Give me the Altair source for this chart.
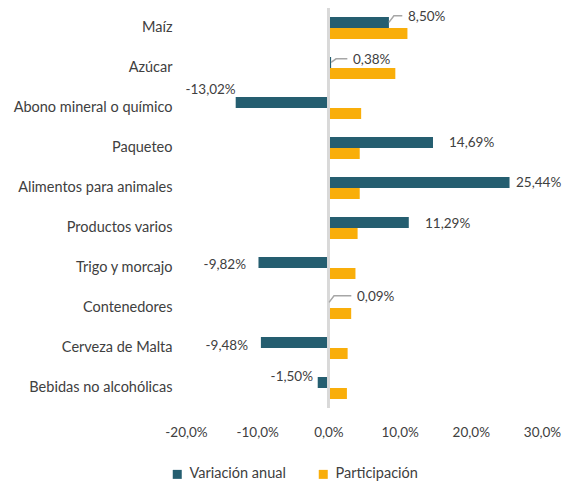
import altair as alt
import pandas as pd

FONT = "Lato"
FS = 14.5
FS_SMALL = 13.5
FS_LEG = 14.5
TXT = "#404040"

categories = ["Maíz", "Azúcar", "Abono mineral o químico", "Paqueteo",
              "Alimentos para animales", "Productos varios", "Trigo y morcajo",
              "Contenedores", "Cerveza de Malta", "Bebidas no alcohólicas"]
variacion = [8.50, 0.38, -13.02, 14.69, 25.44, 11.29, -9.82, 0.09, -9.48, -1.50]
participacion = [11.1, 9.4, 4.6, 4.4, 4.4, 4.1, 3.8, 3.2, 2.7, 2.6]

# label anchors (x in %, y in category-index units)
label_x = [11.18, 3.46, -13.02, 16.94, 26.35, 13.57, -11.57, 4.02, -11.29, -2.16]
label_y = [-0.275, 0.8, 1.55, 2.875, 3.875, 4.9, 5.925, 6.725, 7.95, 8.725]
leader_rows = ["Maíz", "Azúcar", "Contenedores"]

series = ["Variación anual", "Participación"]
colors = ["#255E70", "#F9AE0A"]
x_ticks = [-20, -10, 0, 10, 20, 30]

rows = []
for c, v, p in zip(categories, variacion, participacion):
    rows.append({"categoria": c, "serie": series[0], "valor": v})
    rows.append({"categoria": c, "serie": series[1], "valor": p})
bars_df = pd.DataFrame(rows)

lab_df = pd.DataFrame({
    "categoria": categories,
    "valor": variacion,
    "lx": label_x,
    "ly": label_y,
    "texto": [f"{v:.2f}".replace(".", ",") + "%" for v in variacion],
})

lead_rows = []
for i, c in enumerate(categories):
    if c in leader_rows:
        v = variacion[i]
        lead_rows.append({"categoria": c, "k": 0, "lx": v, "ly": i - 0.14})
        lead_rows.append({"categoria": c, "k": 1, "lx": v + 0.7, "ly": label_y[i] - 0.03})
        lead_rows.append({"categoria": c, "k": 2, "lx": label_x[i] - 0.8, "ly": label_y[i] - 0.03})
lead_df = pd.DataFrame(lead_rows)

x_scale = alt.Scale(domain=[-20, 30], nice=False, zero=False)
yq_scale = alt.Scale(domain=[-0.5, 9.5], reverse=True, nice=False, zero=False)

bars = alt.Chart(bars_df).mark_bar().encode(
    x=alt.X("valor:Q", scale=x_scale,
            axis=alt.Axis(values=x_ticks, title=None, grid=False, domain=False, ticks=False,
                          labelFlush=False, labelPadding=17, labelFontSize=FS_SMALL,
                          labelColor=TXT, labelFont=FONT,
                          labelExpr="(datum.value < 0 ? '-' : '') + replace(format(abs(datum.value), '.1f'), '.', ',') + '%'")),
    y=alt.Y("categoria:N", sort=categories,
            scale=alt.Scale(paddingInner=0.45, paddingOuter=0.225),
            axis=alt.Axis(title=None, domain=False, ticks=False, labelPadding=14,
                          labelFontSize=FS, labelColor=TXT,
                          labelFont=FONT, labelLimit=300)),
    yOffset=alt.YOffset("serie:N", sort=series, scale=alt.Scale(paddingInner=0, paddingOuter=0)),
    color=alt.Color("serie:N", sort=series, scale=alt.Scale(domain=series, range=colors),
                    legend=alt.Legend(title=None, orient="none", direction="horizontal",
                                      legendX=-16, legendY=459, symbolType="square",
                                      symbolSize=81, symbolStrokeWidth=0, labelFontSize=FS_LEG,
                                      labelFont=FONT, labelColor=TXT, columnPadding=30,
                                      labelOffset=5)),
)

zero = alt.Chart(bars_df).mark_rule(color="#D9D9D9", strokeWidth=2).encode(x=alt.datum(0))

leaders = alt.Chart(lead_df).mark_line(color="#A6A6A6", strokeWidth=1.5).encode(
    x=alt.X("lx:Q", scale=x_scale),
    y=alt.Y("ly:Q", scale=yq_scale, axis=None),
    detail="categoria:N",
    order="k:O",
)

txt_pos = alt.Chart(lab_df).transform_filter("datum.valor >= 0").mark_text(
    align="left", baseline="middle", fontSize=FS_SMALL, font=FONT, color=TXT).encode(
    x=alt.X("lx:Q", scale=x_scale),
    y=alt.Y("ly:Q", scale=yq_scale, axis=None),
    text="texto:N",
)
txt_neg = alt.Chart(lab_df).transform_filter("datum.valor < 0").mark_text(
    align="right", baseline="middle", fontSize=FS_SMALL, font=FONT, color=TXT).encode(
    x=alt.X("lx:Q", scale=x_scale),
    y=alt.Y("ly:Q", scale=yq_scale, axis=None),
    text="texto:N",
)

chart = alt.layer(bars, zero, leaders, txt_pos, txt_neg).resolve_scale(
    y="independent"
).properties(
    width=356, height=400,
    autosize=alt.AutoSizeParams(type="none"),
    padding={"left": 178, "top": 0, "right": 20, "bottom": 76},
).configure_view(stroke=None)

chart.save("out.html", embed_options={"renderer": "svg", "actions": False})
